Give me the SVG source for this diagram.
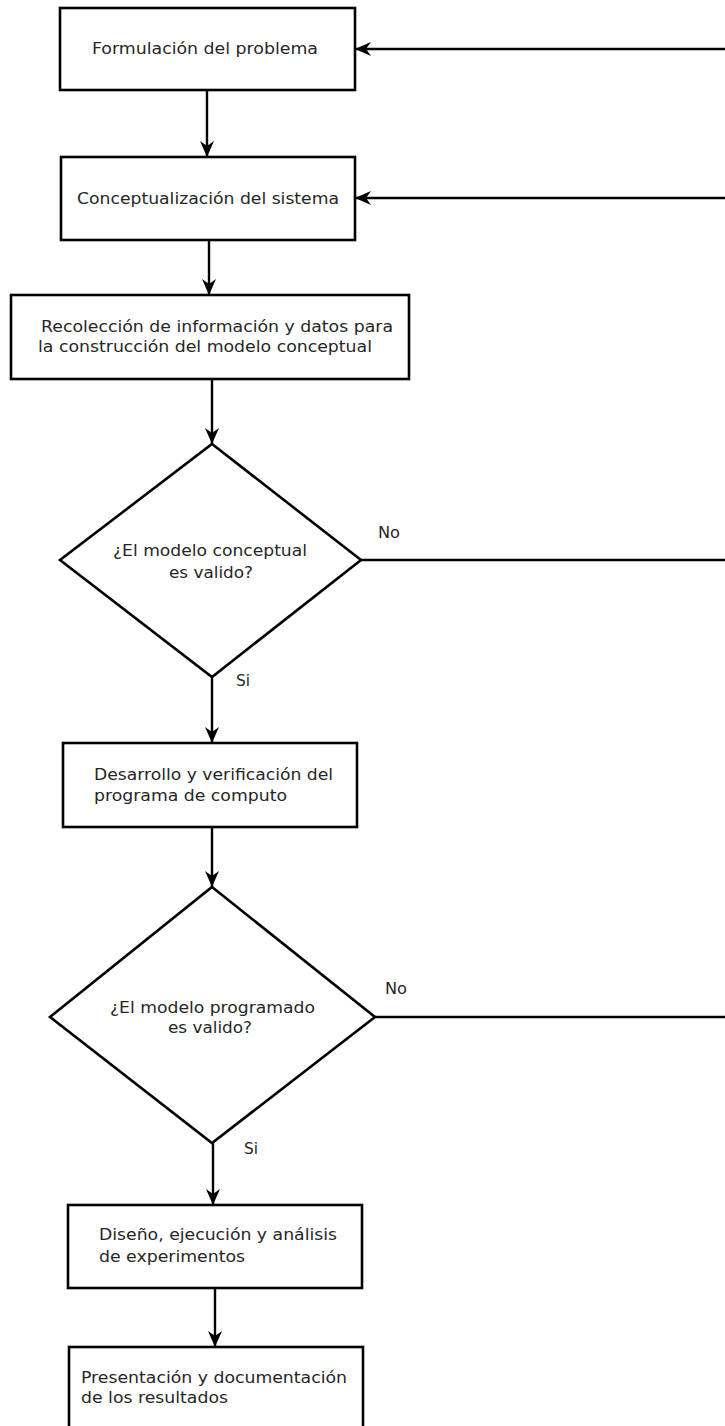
<svg xmlns="http://www.w3.org/2000/svg" width="725" height="1426" viewBox="0 0 725 1426">
<style>
.shape{fill:#fff;stroke:#000;stroke-width:2.6}
.edge{fill:none;stroke:#000;stroke-width:2.4}
text{font-family:"DejaVu Sans","Liberation Sans",sans-serif;font-size:16px;fill:#262626}
</style>
<defs>
<marker id="arr" markerUnits="userSpaceOnUse" markerWidth="16" markerHeight="16" refX="16" refY="8" orient="auto" viewBox="0 0 16 16">
<path d="M0,1 L16,8 L0,15 L5,8 z" fill="#000"/>
</marker>
</defs>
<rect width="725" height="1426" fill="#fff"/>
<g id="connectors">
<line class="edge" x1="207" y1="90" x2="207" y2="157" marker-end="url(#arr)"/>
<line class="edge" x1="209" y1="240" x2="209" y2="295" marker-end="url(#arr)"/>
<line class="edge" x1="212" y1="379" x2="212" y2="444" marker-end="url(#arr)"/>
<line class="edge" x1="212" y1="677" x2="212" y2="743" marker-end="url(#arr)"/>
<line class="edge" x1="212" y1="827" x2="212" y2="887" marker-end="url(#arr)"/>
<line class="edge" x1="213" y1="1143" x2="213" y2="1205" marker-end="url(#arr)"/>
<line class="edge" x1="215" y1="1288" x2="215" y2="1347" marker-end="url(#arr)"/>
<line class="edge" x1="725" y1="49" x2="355" y2="49" marker-end="url(#arr)"/>
<line class="edge" x1="725" y1="198" x2="355" y2="198" marker-end="url(#arr)"/>
<line class="edge" x1="361" y1="560" x2="725" y2="560"/>
<line class="edge" x1="375" y1="1017" x2="725" y2="1017"/>
<text x="378" y="538" textLength="22" lengthAdjust="spacingAndGlyphs">No</text>
<text x="236" y="686" textLength="14" lengthAdjust="spacingAndGlyphs">Si</text>
<text x="385" y="994" textLength="22" lengthAdjust="spacingAndGlyphs">No</text>
<text x="244" y="1154" textLength="14" lengthAdjust="spacingAndGlyphs">Si</text>
</g>
<g id="n1">
<rect class="shape" x="60" y="8" width="295" height="82"/>
<text x="92" y="54" textLength="226" lengthAdjust="spacingAndGlyphs">Formulación del problema</text>
</g>
<g id="n2">
<rect class="shape" x="61" y="157" width="294" height="83"/>
<text x="77" y="204" textLength="262" lengthAdjust="spacingAndGlyphs">Conceptualización del sistema</text>
</g>
<g id="n3">
<rect class="shape" x="11" y="295" width="398" height="84"/>
<text x="41" y="332" textLength="352" lengthAdjust="spacingAndGlyphs">Recolección de información y datos para</text>
<text x="38" y="352" textLength="334" lengthAdjust="spacingAndGlyphs">la construcción del modelo conceptual</text>
</g>
<g id="n4">
<polygon class="shape" points="212,444 361,560 212,677 60,560"/>
<text x="113" y="556" textLength="194" lengthAdjust="spacingAndGlyphs">¿El modelo conceptual</text>
<text x="169" y="578" textLength="84" lengthAdjust="spacingAndGlyphs">es valido?</text>
</g>
<g id="n5">
<rect class="shape" x="63" y="743" width="294" height="84"/>
<text x="94" y="780" textLength="239" lengthAdjust="spacingAndGlyphs">Desarrollo y verificación del</text>
<text x="94" y="801" textLength="193" lengthAdjust="spacingAndGlyphs">programa de computo</text>
</g>
<g id="n6">
<polygon class="shape" points="212,887 375,1017 212,1143 50,1017"/>
<text x="110" y="1013" textLength="205" lengthAdjust="spacingAndGlyphs">¿El modelo programado</text>
<text x="168" y="1033" textLength="84" lengthAdjust="spacingAndGlyphs">es valido?</text>
</g>
<g id="n7">
<rect class="shape" x="68" y="1205" width="294" height="83"/>
<text x="99" y="1240" textLength="238" lengthAdjust="spacingAndGlyphs">Diseño, ejecución y análisis</text>
<text x="99" y="1262" textLength="146" lengthAdjust="spacingAndGlyphs">de experimentos</text>
</g>
<g id="n8">
<rect class="shape" x="69" y="1347" width="294" height="100"/>
<text x="81" y="1383" textLength="266" lengthAdjust="spacingAndGlyphs">Presentación y documentación</text>
<text x="81" y="1403" textLength="147" lengthAdjust="spacingAndGlyphs">de los resultados</text>
</g>
</svg>
